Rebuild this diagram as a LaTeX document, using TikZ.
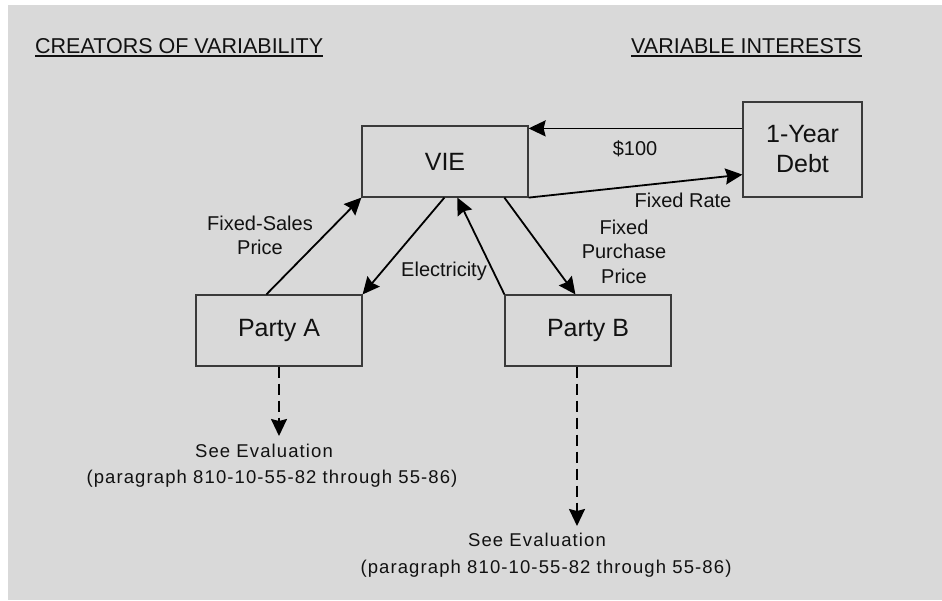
\documentclass[tikz,border=0pt]{standalone}
\usepackage{fontspec}
\usepackage{graphicx}
\setmainfont{Liberation Sans}
\usetikzlibrary{arrows.meta,calc}
\definecolor{bgc}{HTML}{D9D9D9}
\definecolor{edge}{HTML}{3A3A3A}
\definecolor{ink}{HTML}{111111}
\begin{document}
\begin{tikzpicture}[x=1pt,y=-1pt,
  box/.style={draw=edge, line width=1.2pt, inner sep=0, text=ink,
    font=\fontsize{25}{30}\selectfont, align=center},
  lab/.style={inner sep=0, anchor=base, text=ink, font=\fontsize{20}{24}\selectfont},
  note/.style={inner sep=0, anchor=base, text=ink,
    font=\fontsize{18.5}{26}\selectfont\addfontfeatures{LetterSpace=6}},
  head/.style={inner sep=0, anchor=base west, text=ink, font=\fontsize{21.5}{25}\selectfont},
  conn/.style={draw=black, line width=1.8pt,
    -{Stealth[length=17pt,width=16pt,inset=2pt]}},
  dconn/.style={conn, dash pattern=on 11pt off 6pt}
]
\useasboundingbox (0,0) rectangle (942,600);
\fill[bgc] (8,5) rectangle (942,600);

% headers
\node[head] (h1) at (35,53) {CREATORS OF VARIABILITY};
\node[head] (h2) at (631,53) {VARIABLE INTERESTS};
\draw[ink, line width=1.1pt] ([yshift=-3pt]h1.base west) -- ([yshift=-3pt]h1.base east);
\draw[ink, line width=1.1pt] ([yshift=-3pt]h2.base west) -- ([yshift=-3pt]h2.base east);

% boxes
\node[box, minimum width=166pt, minimum height=71pt] (VIE) at (445,161.5) {VIE};
\node[box, minimum width=119pt, minimum height=95pt] (Debt) at (802.5,149.5) {1-Year\\Debt};
\node[box, minimum width=166pt, minimum height=71pt] (PA) at (279,330.5) {Party A};
\node[box, minimum width=166pt, minimum height=71pt] (PB) at (588,330.5) {Party B};

% connectors
\draw[conn] ($(Debt.north west)+(0,27)$) -- ($(VIE.north east)+(0,3)$);
\draw[conn] (VIE.south east) -- ($(Debt.south west)+(0,-23)$);
\draw[conn] ($(PA.north west)+(71,0)$) -- (VIE.south west);
\draw[conn] ($(VIE.south west)+(83,0)$) -- (PA.north east);
\draw[conn] (PB.north west) -- ($(VIE.south west)+(96,0)$);
\draw[conn] ($(VIE.south west)+(143,0)$) -- ($(PB.north west)+(71,0)$);

\coordinate (endA) at (279,436);
\coordinate (endB) at (577,526);
\draw[dconn] (PA.south west -| endA) -- (endA);
\draw[dconn] (PB.south west -| endB) -- (endB);

% labels
\node[lab] (l100) at (635,155) {\$100};
\node[lab] (lrate) at (683,207) {Fixed Rate};
\node[lab] (lfp1) at (624,234) {Fixed};
\node[lab] (lfp2) at (624,258.5) {Purchase};
\node[lab] (lfp3) at (624,283) {Price};
\node[lab] (lel) at (444,276) {Electricity};
\node[lab] (lfs1) at (260,230) {Fixed-Sales};
\node[lab] (lfs2) at (260,254) {Price};

% notes
\node[note] (eA1) at (264,457) {See Evaluation};
\node[note] (eA2) at (272,483) {(paragraph 810-10-55-82 through 55-86)};
\node[note] (eB1) at (537,546) {See Evaluation};
\node[note] (eB2) at (546,573) {(paragraph 810-10-55-82 through 55-86)};
\end{tikzpicture}
\end{document}
